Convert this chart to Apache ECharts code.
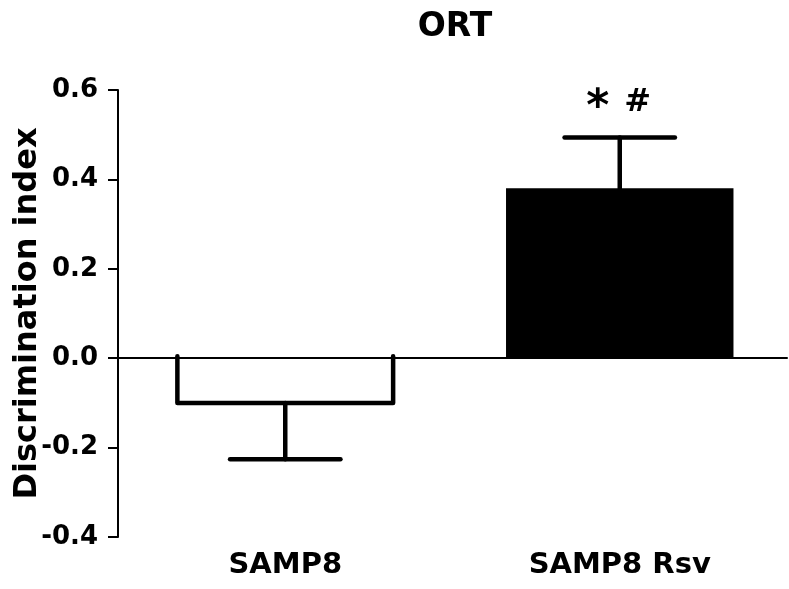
<!DOCTYPE html>
<html>
<head>
<meta charset="utf-8">
<script src="https://cdn.jsdelivr.net/npm/echarts@6/dist/echarts.min.js"></script>
<style>
  html, body { margin: 0; padding: 0; background: #fff; }
  #chart { width: 789px; height: 589px; }
</style>
</head>
<body>
<div id="chart"></div>
<script>
// data
const categories = ['SAMP8', 'SAMP8 Rsv']
const meanValues = [-0.1, 0.38]
const errValues = [0.126, 0.114]   // SEM
const marks = [[], ['*', '#']]
const yTicks = { min: -0.4, max: 0.6, interval: 0.2 }

const font = 'DejaVu Sans'

const chart = echarts.init(document.getElementById('chart'))

// negative bar is drawn open (outline only) by the custom series below
const barData = meanValues.map(v => ({
  value: v,
  itemStyle: { color: v < 0 ? 'rgba(0,0,0,0)' : '#000' }
}))

const option = {
  animation: false,
  title: {
    text: 'ORT',
    left: 450,
    top: 6,
    textAlign: 'center',
    textStyle: { fontFamily: font, fontWeight: 'bold', fontSize: 33, color: '#000' }
  },
  grid: { left: 118, right: 2, top: 90, bottom: 52, containLabel: false, outerBoundsMode: 'none' },
  xAxis: {
    type: 'category',
    data: categories,
    axisLine: { lineStyle: { color: '#000', width: 2 } },
    axisTick: { alignWithLabel: true, length: 7, lineStyle: { color: '#000', width: 2 } },
    axisLabel: { color: '#000', fontFamily: font, fontWeight: 'bold', fontSize: 29, margin: 14 }
  },
  yAxis: {
    type: 'value',
    min: yTicks.min,
    max: yTicks.max,
    interval: yTicks.interval,
    name: 'Discrimination index',
    nameLocation: 'middle',
    nameRotate: 90,
    nameGap: 74,
    nameMoveOverlap: false,
    nameTextStyle: { color: '#000', fontFamily: font, fontWeight: 'bold', fontSize: 32 },
    axisLine: { show: true, lineStyle: { color: '#000', width: 2 } },
    axisTick: { show: true, length: 10, lineStyle: { color: '#000', width: 2 } },
    axisLabel: {
      color: '#000', fontFamily: font, fontWeight: 'bold', fontSize: 26, margin: 20,
      formatter: v => v.toFixed(1)
    },
    splitLine: { show: false }
  },
  series: [
    {
      type: 'bar',
      data: barData,
      barWidth: '68%',
      markLine: {
        silent: true,
        symbol: 'none',
        label: { show: false },
        lineStyle: { color: '#000', width: 2, type: 'solid' },
        data: [{ yAxis: 0 }],
        z: 5
      }
    },
    {
      type: 'custom',
      z: 10,
      data: meanValues.map((v, i) => [i, v, errValues[i]]),
      renderItem: (params, api) => {
        const i = api.value(0)
        const m = api.value(1)
        const e = api.value(2)
        const end = m < 0 ? m - e : m + e
        const base = api.coord([i, 0])
        const p0 = api.coord([i, m])
        const p1 = api.coord([i, end])
        const band = api.size([1, 0])[0]
        const half = band * 0.165
        const style = { stroke: '#000', lineWidth: 4.5, lineCap: 'round', lineJoin: 'round', fill: null }
        const children = []
        if (m < 0) {
          const hw = band * 0.645 / 2
          children.push({
            type: 'polyline',
            shape: { points: [
              [p0[0] - hw, base[1] - 2], [p0[0] - hw, p0[1]],
              [p0[0] + hw, p0[1]], [p0[0] + hw, base[1] - 2]
            ] },
            style
          })
        }
        children.push(
          { type: 'line', shape: { x1: p0[0], y1: p0[1], x2: p1[0], y2: p1[1] }, style },
          { type: 'line', shape: { x1: p1[0] - half, y1: p1[1], x2: p1[0] + half, y2: p1[1] }, style }
        )
        const mk = marks[params.dataIndex]
        if (mk.length) {
          // asterisk drawn larger than the hash, as in the figure
          children.push({
            type: 'text',
            style: {
              text: mk[0], x: p1[0] - 22, y: p1[1] - 29,
              align: 'center', verticalAlign: 'middle',
              font: 'bold 44px ' + font, fill: '#000'
            }
          })
          children.push({
            type: 'text',
            style: {
              text: mk[1], x: p1[0] + 18, y: p1[1] - 35,
              align: 'center', verticalAlign: 'middle',
              font: 'bold 32px ' + font, fill: '#000'
            }
          })
        }
        return { type: 'group', children }
      }
    }
  ]
}

chart.setOption(option)
</script>
</body>
</html>
